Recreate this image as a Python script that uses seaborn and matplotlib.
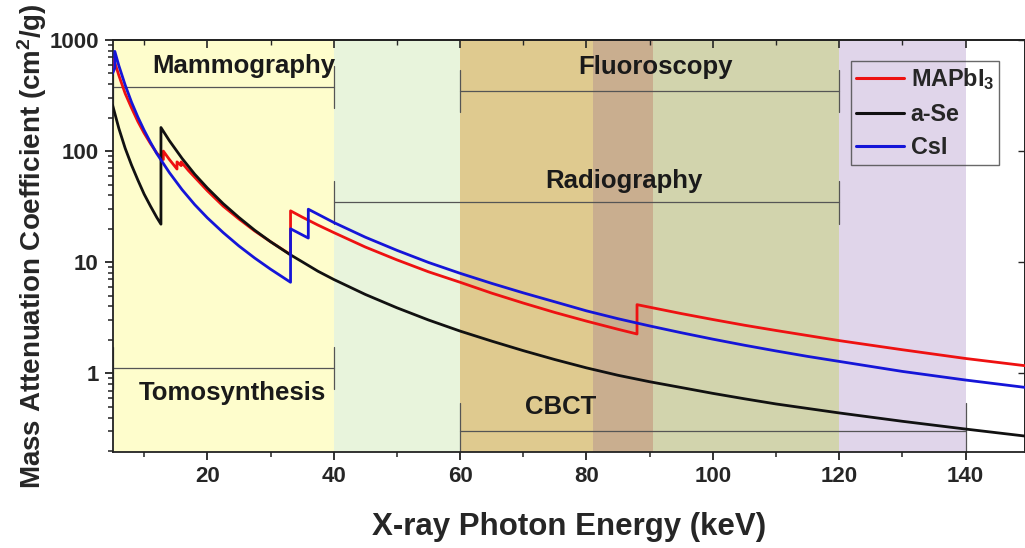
import numpy as np
import pandas as pd
import matplotlib
matplotlib.use("Agg")
import matplotlib.pyplot as plt
import seaborn as sns
from matplotlib.ticker import FixedLocator, NullFormatter, LogLocator

# ---------------- data ----------------
mapbi3_E = [5.0, 5.19, 5.19, 6, 7, 8, 9, 10, 11, 12, 13.04, 13.04, 14, 15.2, 15.2,
            15.86, 15.86, 17, 20, 22.5, 25, 27.5, 30, 33.17, 33.17, 35, 37.5, 40, 45,
            50, 55, 60, 65, 70, 75, 80, 85, 88.0, 88.0, 95, 100, 105, 110, 120, 130,
            140, 150]
mapbi3_mu = [520, 545, 670, 480, 330, 245, 185, 145, 117, 96, 84, 100, 84, 69, 80,
             74, 80, 67, 44, 32, 24.5, 19.1, 15.3, 11.7, 29, 25.5, 21.6, 18.5, 13.7,
             10.5, 8.2, 6.6, 5.27, 4.29, 3.53, 2.95, 2.49, 2.26, 4.15, 3.45, 3.05,
             2.71, 2.43, 1.97, 1.63, 1.36, 1.16]

ase_E = [5.0, 6, 7, 8, 9, 10, 11, 12, 12.66, 12.66, 14, 16, 18, 20, 22.5, 25, 27.5,
         30, 33, 35, 37.5, 40, 45, 50, 55, 60, 65, 70, 75, 80, 85, 90, 95, 100, 105,
         110, 120, 130, 140, 150]
ase_mu = [260, 160, 106, 75, 55, 41, 32, 25.3, 22, 163, 124, 86, 62, 46.6, 33.7,
          25.3, 19.4, 15.3, 11.8, 10.1, 8.3, 7.0, 5.13, 3.89, 3.02, 2.4, 1.95, 1.6,
          1.33, 1.12, 0.96, 0.84, 0.745, 0.66, 0.59, 0.53, 0.44, 0.37, 0.315, 0.27]

csi_E = [5.0, 5.36, 5.36, 6, 7, 8, 9, 10, 11, 12, 13, 14, 16, 18, 20, 22.5, 25, 27.5,
         30, 33.17, 33.17, 35.98, 35.98, 40, 45, 50, 55, 60, 65, 70, 75, 80, 85, 90,
         95, 100, 105, 110, 115, 120, 130, 140, 150]
csi_mu = [500, 560, 790, 587, 393, 276, 203, 154, 120, 95, 78, 64, 45, 33, 25.1,
          18.5, 14, 10.9, 8.66, 6.6, 20, 16.5, 30, 22.8, 16.8, 12.8, 9.95, 7.95, 6.45,
          5.3, 4.4, 3.65, 3.1, 2.67, 2.32, 2.03, 1.79, 1.59, 1.42, 1.28, 1.04, 0.87,
          0.74]

series_names = ["MAPbI$_3$", "a-Se", "CsI"]
series_colors = ["#EE1111", "#111111", "#1515D8"]

# shaded energy bands
band_edges = [5, 40, 60, 81, 90.6, 120, 140]
band_colors = ["#FEFDCC", "#E8F4DC", "#DFCA8F", "#C9AE8F", "#D2D4AD", "#E0D5EA"]

# application ranges
app_names = ["Mammography", "Fluoroscopy", "Radiography", "Tomosynthesis", "CBCT"]
app_x0 = [5, 60, 40, 5, 60]
app_x1 = [40, 120, 120, 40, 140]
app_bar_y = [380, 350, 34.5, 1.11, 0.30]
app_text_x = [25.7, 90.9, 86.0, 24.0, 75.9]
app_text_y = [585, 575, 54, 0.67, 0.495]

x_major = [20, 40, 60, 80, 100, 120, 140]
x_minor = [10, 30, 50, 70, 90, 110, 130, 150]
y_major = [1, 10, 100, 1000]
y_major_labels = ["1", "10", "100", "1000"]

# ---------------- build table ----------------
rows = []
for name, E, mu in zip(series_names, [mapbi3_E, ase_E, csi_E], [mapbi3_mu, ase_mu, csi_mu]):
    for i, (e, m) in enumerate(zip(E, mu)):
        rows.append({"material": name, "energy": e, "mu": m, "order": i})
df = pd.DataFrame(rows)

# ---------------- style ----------------
sns.set_theme(style="white")
plt.rcParams["font.family"] = ["Liberation Sans", "DejaVu Sans"]
plt.rcParams["font.weight"] = "bold"
plt.rcParams["axes.labelweight"] = "bold"
plt.rcParams["mathtext.fontset"] = "custom"
plt.rcParams["mathtext.rm"] = "Liberation Sans:bold"
plt.rcParams["mathtext.bf"] = "Liberation Sans:bold"
plt.rcParams["mathtext.default"] = "bf"

fig = plt.figure(figsize=(10.25, 5.48), dpi=100)
ax = fig.add_axes([0.1098, 0.1757, 1.0 - 0.1098, 0.927 - 0.1757])
ax.set_facecolor("white")

for x0, x1, c in zip(band_edges[:-1], band_edges[1:], band_colors):
    ax.axvspan(x0, x1, color=c, lw=0, zorder=0)

sns.lineplot(data=df, x="energy", y="mu", hue="material", hue_order=series_names,
             palette=series_colors, sort=False, estimator=None, units="material",
             lw=2.0, ax=ax, zorder=3, legend=True)

ax.set_yscale("log")
ax.set_xlim(5, 149.4)
ax.set_ylim(0.197, 1000)

# application bars
bar_col = "#555555"
for name, x0, x1, yb, tx, ty in zip(app_names, app_x0, app_x1, app_bar_y, app_text_x, app_text_y):
    ax.plot([x0, x1], [yb, yb], color=bar_col, lw=0.9, zorder=2)
    for xv in (x0, x1):
        if name == "CBCT":
            ax.plot([xv, xv], [yb * 1.8, 0.197], color=bar_col, lw=0.9, zorder=2)
        else:
            ax.plot([xv, xv], [yb / 1.55, yb * 1.55], color=bar_col, lw=0.9, zorder=2)
    ax.text(tx, ty, name, ha="center", va="center", fontsize=18.5,
            fontweight="bold", color="#1a1a1a", zorder=4)

# ticks
ax.xaxis.set_major_locator(FixedLocator(x_major))
ax.xaxis.set_minor_locator(FixedLocator(x_minor))
ax.yaxis.set_major_locator(FixedLocator(y_major))
ax.set_yticklabels(y_major_labels)
ax.yaxis.set_minor_locator(LogLocator(base=10, subs=np.arange(2, 10)))
ax.yaxis.set_minor_formatter(NullFormatter())
ax.tick_params(axis="both", which="major", direction="out", length=6, width=1.3,
               labelsize=16, color="#222222", bottom=True, left=True, pad=4)
ax.tick_params(axis="both", which="minor", direction="out", length=3.5, width=1.1,
               color="#222222", bottom=True, left=True)
for lab in ax.get_xticklabels() + ax.get_yticklabels():
    lab.set_fontweight("bold")

secx = ax.secondary_xaxis("top")
secx.xaxis.set_major_locator(FixedLocator(x_major))
secx.xaxis.set_minor_locator(FixedLocator(x_minor))
secx.tick_params(axis="x", which="major", direction="in", length=6, width=1.2, labeltop=False)
secx.tick_params(axis="x", which="minor", direction="in", length=3.5, width=1.0)
secx.spines["top"].set_linewidth(1.3)

secy = ax.secondary_yaxis("right")
secy.yaxis.set_major_locator(FixedLocator(y_major))
secy.yaxis.set_minor_locator(FixedLocator([]))
secy.tick_params(axis="y", which="major", direction="in", length=5, width=1.0, labelright=False)

for s in ax.spines.values():
    s.set_linewidth(1.3)
    s.set_color("#222222")

ax.set_xlabel("X-ray Photon Energy (keV)", fontsize=22.5, fontweight="bold", labelpad=18)
ax.set_ylabel("Mass Attenuation Coefficient (cm$^2$/g)", fontsize=20, fontweight="bold",
              labelpad=0)

leg = ax.legend(loc="upper left", bbox_to_anchor=(0.809, 0.948), fontsize=16.8,
                frameon=True, fancybox=False, handlelength=2.05, handletextpad=0.3,
                labelspacing=0.45, borderpad=0.22, borderaxespad=0)
leg.get_frame().set_facecolor("none")
leg.get_frame().set_edgecolor("#444444")
leg.get_frame().set_linewidth(1.0)
for t in leg.get_texts():
    t.set_fontweight("bold")
for l in leg.get_lines():
    l.set_linewidth(2.2)

fig.savefig("out.png", dpi=100)
